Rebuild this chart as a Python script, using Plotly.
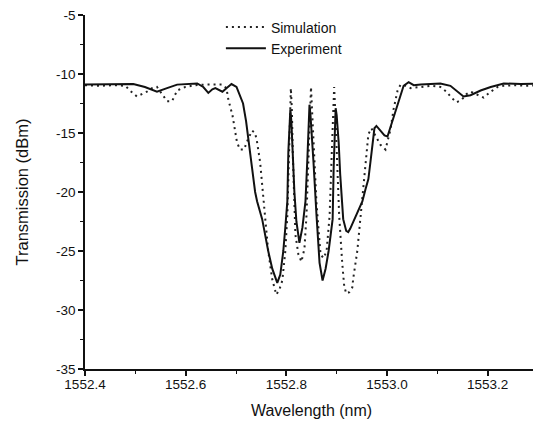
import plotly.graph_objects as go

exp_wl = [1552.400, 1552.450, 1552.496, 1552.519, 1552.543, 1552.563, 1552.583, 1552.623, 1552.635,
          1552.645, 1552.653, 1552.659, 1552.667, 1552.673, 1552.681, 1552.691, 1552.701, 1552.708,
          1552.714, 1552.720, 1552.724, 1552.728, 1552.732, 1552.738, 1552.742, 1552.752, 1552.758,
          1552.764, 1552.772, 1552.782, 1552.788, 1552.794, 1552.798, 1552.802, 1552.804, 1552.806,
          1552.808, 1552.810, 1552.812, 1552.816, 1552.820, 1552.826, 1552.832, 1552.838, 1552.842,
          1552.844, 1552.846, 1552.848, 1552.852, 1552.854, 1552.860, 1552.866, 1552.872, 1552.878,
          1552.884, 1552.892, 1552.894, 1552.896, 1552.898, 1552.900, 1552.904, 1552.907, 1552.913,
          1552.919, 1552.923, 1552.927, 1552.933, 1552.943, 1552.951, 1552.957, 1552.963, 1552.967,
          1552.971, 1552.975, 1552.979, 1552.987, 1552.995, 1553.001, 1553.007, 1553.013, 1553.023,
          1553.033, 1553.043, 1553.053, 1553.067, 1553.087, 1553.106, 1553.126, 1553.138, 1553.152,
          1553.166, 1553.186, 1553.206, 1553.232, 1553.266, 1553.303]
exp_db = [-10.9, -10.85, -10.85, -11.1, -11.5, -11.2, -10.9, -10.8, -11.1,
          -11.6, -11.3, -11.2, -11.35, -11.5, -11.2, -10.85, -11.1, -11.8,
          -12.5, -14.0, -15.2, -16.6, -18.0, -20.0, -20.8, -22.3, -23.7,
          -25.0, -26.5, -27.7, -27.0, -25.0, -23.0, -20.8, -16.6, -14.0,
          -13.0, -14.0, -16.6, -20.0, -22.5, -24.3, -23.0, -20.8, -17.0,
          -15.0, -12.6, -13.5, -16.0, -17.5, -22.0, -26.0, -27.5, -26.5,
          -25.0, -22.3, -18.0, -15.0, -12.9, -13.5, -15.8, -18.5, -22.3,
          -23.3, -23.4, -23.1, -22.5, -21.5, -20.8, -19.8, -18.9, -17.5,
          -16.2, -14.6, -14.4, -14.8, -15.2, -15.3, -14.5, -13.5, -12.3,
          -11.0, -10.7, -10.95, -10.9, -10.85, -10.8, -11.0, -11.4, -11.9,
          -11.8, -11.4, -11.1, -10.8, -10.85, -10.8]

sim_wl = [1552.400, 1552.430, 1552.460, 1552.480, 1552.492, 1552.503, 1552.513, 1552.523, 1552.533,
          1552.543, 1552.553, 1552.563, 1552.573, 1552.583, 1552.599, 1552.619, 1552.639, 1552.659,
          1552.673, 1552.681, 1552.685, 1552.693, 1552.697, 1552.702, 1552.708, 1552.716, 1552.724,
          1552.732, 1552.738, 1552.742, 1552.748, 1552.754, 1552.758, 1552.764, 1552.772, 1552.780,
          1552.786, 1552.792, 1552.798, 1552.802, 1552.805, 1552.807, 1552.809, 1552.811, 1552.813,
          1552.818, 1552.824, 1552.830, 1552.836, 1552.840, 1552.844, 1552.847, 1552.849, 1552.851,
          1552.854, 1552.860, 1552.868, 1552.874, 1552.880, 1552.886, 1552.890, 1552.893, 1552.895,
          1552.897, 1552.900, 1552.905, 1552.911, 1552.915, 1552.919, 1552.925, 1552.931, 1552.933,
          1552.941, 1552.947, 1552.953, 1552.959, 1552.963, 1552.969, 1552.977, 1552.987, 1552.997,
          1553.003, 1553.007, 1553.013, 1553.021, 1553.027, 1553.037, 1553.047, 1553.067, 1553.087,
          1553.106, 1553.118, 1553.128, 1553.138, 1553.148, 1553.158, 1553.166, 1553.178, 1553.192,
          1553.206, 1553.220, 1553.232, 1553.256, 1553.276, 1553.303]
sim_db = [-10.95, -11.0, -10.95, -11.0, -11.5, -11.9, -11.7, -11.5, -11.2,
          -11.1, -11.7, -12.3, -12.3, -11.4, -11.1, -10.95, -10.9, -10.9,
          -10.9, -11.2, -12.2, -13.5, -14.7, -15.8, -16.4, -16.4, -15.5,
          -14.8, -15.0, -15.8, -17.5, -20.0, -22.2, -25.0, -27.4, -28.7,
          -28.3, -27.5, -25.0, -22.0, -17.0, -13.0, -11.2, -13.0, -17.0,
          -23.6, -25.3, -25.9, -24.8, -22.0, -17.0, -13.0, -11.1, -13.0,
          -16.0, -21.0, -25.3, -25.6, -25.0, -22.0, -17.0, -13.0, -11.1,
          -13.0, -16.5, -22.0, -26.0, -28.0, -28.6, -28.5, -28.1, -27.3,
          -25.0, -22.3, -19.4, -16.9, -15.1, -14.6, -15.2, -16.0, -16.4,
          -15.5, -14.7, -13.0, -11.4, -10.9, -11.0, -11.2, -11.1, -11.0,
          -11.1, -11.5, -12.0, -12.4, -12.2, -11.7, -11.5, -11.7, -12.0,
          -11.5, -11.1, -11.0, -10.95, -11.0, -10.95]

x_ticks = [1552.4, 1552.6, 1552.8, 1553.0, 1553.2]
x_labels = ["1552.4", "1552.6", "1552.8", "1553.0", "1553.2"]
x_minor = [1552.5, 1552.7, 1552.9, 1553.1, 1553.3]
y_ticks = [-5, -10, -15, -20, -25, -30, -35]
y_labels = ["-5", "-10", "-15", "-20", "-25", "-30", "-35"]
y_minor = [-7.5, -12.5, -17.5, -22.5, -27.5, -32.5]

FONT = "Liberation Sans, Arial, sans-serif"

fig = go.Figure()
fig.add_trace(go.Scatter(x=sim_wl, y=sim_db, mode="lines", name="Simulation",
                         line=dict(color="#222", width=2, dash="2px,4px")))
fig.add_trace(go.Scatter(x=exp_wl, y=exp_db, mode="lines", name="Experiment",
                         line=dict(color="#111", width=2)))

axis_common = dict(showline=True, linecolor="#111", linewidth=1.5, ticks="outside",
                   tickcolor="#111", ticklen=5, tickwidth=1.5, showgrid=False, zeroline=False,
                   tickfont=dict(family=FONT, size=13.5, color="#111"), mirror=False,
                   automargin=False, ticklabeloverflow="allow")

# The page body has an 8px default margin; the figure size compensates for it.
fig.update_layout(
    width=533, height=418,
    margin=dict(l=77, r=3, t=7, b=57),
    paper_bgcolor="white", plot_bgcolor="white",
    font=dict(family=FONT, color="#111"),
    showlegend=True,
    legend=dict(x=0.30, y=1.01, xanchor="left", yanchor="top", bgcolor="rgba(0,0,0,0)",
                font=dict(family=FONT, size=14, color="#111"), tracegroupgap=0,
                itemwidth=40),
    xaxis=dict(range=[1552.4, 1553.3], tickmode="array", tickvals=x_ticks, ticktext=x_labels,
               ticklabelstandoff=-3,
               minor=dict(tickmode="array", tickvals=x_minor, ticks="outside", ticklen=3,
                          tickcolor="#111", tickwidth=1.2),
               title=dict(text="Wavelength (nm)", font=dict(family=FONT, size=16), standoff=14),
               **axis_common),
    yaxis=dict(range=[-35, -5], tickmode="array", tickvals=y_ticks, ticktext=y_labels,
               minor=dict(tickmode="array", tickvals=y_minor, ticks="outside", ticklen=3,
                          tickcolor="#111", tickwidth=1.2),
               title=dict(text="Transmission (dBm)", font=dict(family=FONT, size=16.5), standoff=23),
               **axis_common),
)

fig.write_html("out.html")
